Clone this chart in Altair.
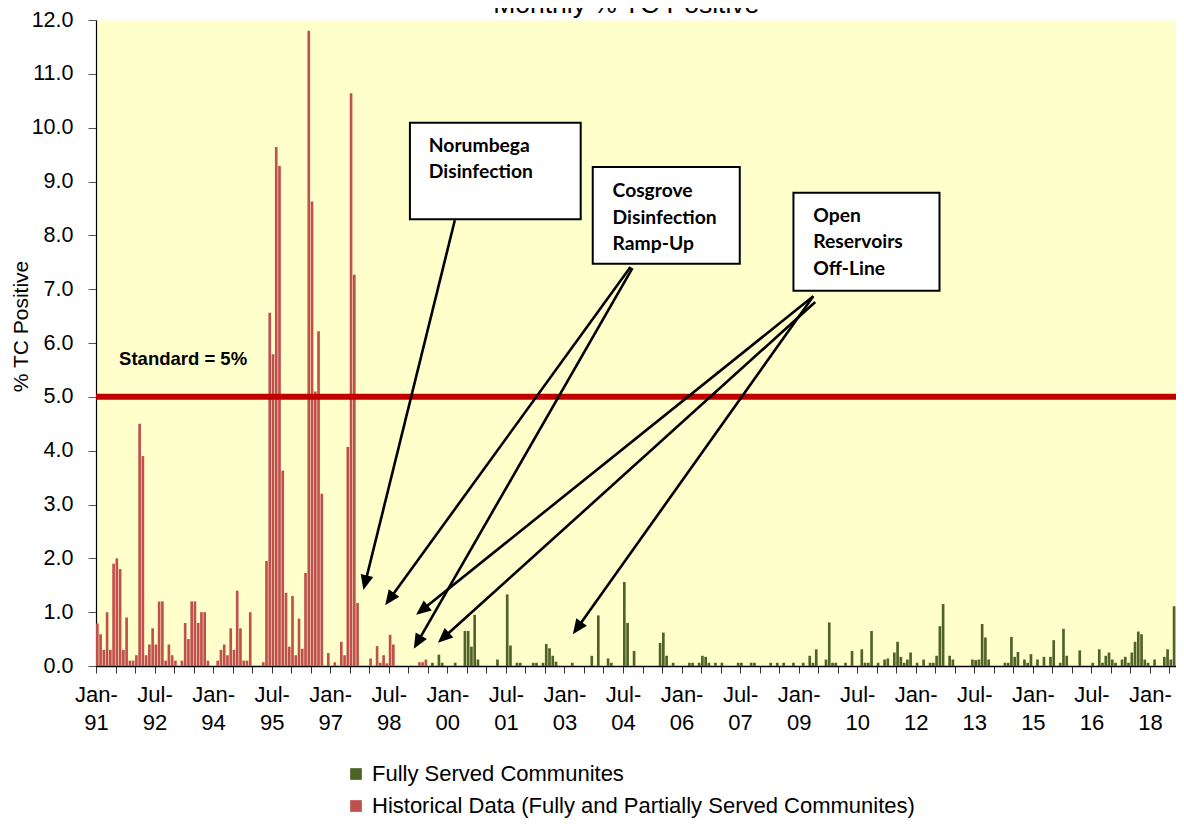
import json
import math
import altair as alt
import pandas as pd

# ---------------- data (month index 0 = Jan-1991) ----------------
SERIES = ["Fully Served Communites",
          "Historical Data (Fully and Partially Served Communites)"]
COLORS = ["#4F6228", "#C0504D"]

hist_start = 0
historical = [
    0.79, 0.59, 0.3, 1.0, 0.3, 1.9, 2.0, 1.8, 0.3, 0.9, 0.1, 0.1,        # 1991
    0.2, 4.5, 3.9, 0.2, 0.4, 0.7, 0.4, 1.2, 1.2, 0.1, 0.4, 0.2,          # 1992
    0.1, 0, 0.1, 0.8, 0.5, 1.2, 1.2, 0.8, 1.0, 1.0, 0.1, 0,              # 1993
    0, 0.1, 0.3, 0.4, 0.2, 0.7, 0.3, 1.4, 0.7, 0.1, 0.1, 1.0,            # 1994
    0, 0, 0, 0.07, 1.95, 6.56, 5.79, 9.64, 9.29, 3.63, 1.36, 0.36,       # 1995
    1.3, 0.2, 0.88, 0.32, 1.73, 11.8, 8.63, 5.1, 6.22, 3.2, 0, 0.24,     # 1996
    0, 0.07, 0, 0.45, 0.2, 4.07, 10.64, 7.27, 1.17, 0, 0, 0,             # 1997
    0.14, 0, 0.37, 0.06, 0.2, 0.05, 0.58, 0.4, 0, 0, 0, 0,               # 1998
    0, 0, 0, 0.07, 0.07, 0.12,                                           # 1999
]

fully_start = 96
fully_served = [
    0, 0, 0, 0, 0, 0, 0, 0.06, 0, 0.21, 0.06, 0,                         # 1999
    0, 0, 0.06, 0, 0, 0.65, 0.65, 0.36, 0.95, 0.12, 0, 0,                # 2000
    0, 0, 0, 0.12, 0, 0, 1.33, 0.38, 0, 0.06, 0.06, 0,                   # 2001
    0, 0, 0.06, 0.06, 0, 0.06, 0.41, 0.33, 0.19, 0.08, 0, 0,             # 2002
    0, 0, 0.06, 0, 0, 0, 0, 0, 0.19, 0, 0.94, 0,                         # 2003
    0, 0.14, 0.06, 0, 0, 0, 1.56, 0.8, 0, 0.28, 0, 0,                    # 2004
    0, 0, 0, 0, 0, 0.43, 0.62, 0.19, 0, 0.06, 0, 0,                      # 2005
    0, 0, 0.06, 0.06, 0, 0.06, 0.19, 0.17, 0.06, 0, 0.06, 0,             # 2006
    0.06, 0, 0, 0, 0, 0.06, 0.06, 0, 0, 0.06, 0.06, 0,                   # 2007
    0, 0, 0, 0.06, 0, 0.06, 0, 0.06, 0, 0, 0.06, 0,                      # 2008
    0, 0.06, 0, 0.19, 0.06, 0.31, 0, 0, 0.12, 0.81, 0.06, 0.06,          # 2009
    0, 0, 0.06, 0, 0.28, 0, 0, 0.31, 0.06, 0.06, 0.65, 0,                # 2010
    0.06, 0, 0.12, 0.14, 0, 0.25, 0.45, 0.17, 0.06, 0.12, 0.25, 0,       # 2011
    0.06, 0, 0.12, 0, 0.06, 0.06, 0.19, 0.74, 1.15, 0, 0.19, 0.12,       # 2012
    0, 0, 0, 0, 0, 0.12, 0.11, 0.12, 0.78, 0.53, 0.12, 0,                # 2013
    0, 0, 0, 0.06, 0.06, 0.54, 0.17, 0.26, 0, 0.12, 0.06, 0.22,          # 2014
    0, 0.12, 0, 0.17, 0, 0.17, 0.48, 0, 0.06, 0.69, 0.19, 0,             # 2015
    0, 0, 0.29, 0, 0, 0, 0.06, 0, 0.31, 0.06, 0.19, 0.25,                # 2016
    0.12, 0.06, 0, 0.12, 0.17, 0.06, 0.25, 0.45, 0.64, 0.59, 0.12, 0.06, # 2017
    0, 0.12, 0, 0, 0.17, 0.31, 0.12, 1.11,                               # 2018
]

N_MONTHS = 332
tick_top = ["Jan-", "Jul-"] * 9 + ["Jan-"]
tick_bottom = ["91", "92", "94", "95", "97", "98", "00", "01", "03", "04",
               "06", "07", "09", "10", "12", "13", "15", "16", "18"]

chart_title = "Monthly % TC Positive"
y_title = "% TC Positive"
STANDARD = 5.0
standard_label = "Standard = 5%"

# annotation boxes: (x0, x1, y_top, y_bottom) in months / % units
boxes = [
    (96.5, 149.0, 10.09, 8.30),
    (152.7, 197.9, 9.27, 7.47),
    (214.4, 259.3, 8.79, 6.97),
]
box_texts = [
    (102.3, 9.55, ["Norumbega", "Disinfection"]),
    (158.8, 8.71, ["Cosgrove", "Disinfection", "Ramp-Up"]),
    (220.5, 8.25, ["Open", "Reservoirs", "Off-Line"]),
]
# arrows: start (month, %) -> tip (month, %)
arrows = [
    (110.3, 8.28, 82.2, 1.41),
    (164.3, 7.41, 88.9, 1.13),
    (164.9, 7.39, 97.7, 0.32),
    (220.5, 6.87, 98.4, 0.95),
    (221.1, 6.76, 105.1, 0.43),
    (220.5, 6.87, 146.6, 0.59),
]

# ---------------- layout ----------------
W, H = 1080, 646
PPM = W / N_MONTHS   # px per month
PPU = H / 12.0       # px per % unit
FONT = "Liberation Sans"

rows = []
for i, v in enumerate(historical):
    rows.append({"m": hist_start + i, "m2": hist_start + i + 0.82, "v": v, "s": SERIES[1]})
for i, v in enumerate(fully_served):
    rows.append({"m": fully_start + i, "m2": fully_start + i + 0.82, "v": v, "s": SERIES[0]})
df = pd.DataFrame(rows)
df = df[df["v"] > 0]

xscale = alt.Scale(domain=[0, N_MONTHS], nice=False, zero=False)
yscale = alt.Scale(domain=[0, 12], nice=False)

label_expr = ("datum.value % 18 == 0 ? [" + json.dumps(tick_top) + "[datum.value/18], "
              + json.dumps(tick_bottom) + "[datum.value/18]] : ''")

xaxis = alt.Axis(values=list(range(0, N_MONTHS + 1, 6)), labelExpr=label_expr,
                 labelFont=FONT, labelFontSize=22, labelColor="black",
                 labelBaseline="top", labelLineHeight=28, labelPadding=11,
                 labelAlign="center", labelOverlap=False, labelFlush=False,
                 tickSize=7, tickColor="#333333", domainColor="black",
                 domainWidth=1.5, grid=False, title=None)
yaxis = alt.Axis(values=list(range(0, 13)), format=".1f",
                 labelFont=FONT, labelFontSize=21.5, labelColor="black",
                 labelPadding=15, tickSize=8, tickColor="#555555",
                 domainColor="black", domainWidth=1.2, grid=False,
                 title=y_title, titleFont=FONT, titleFontSize=21,
                 titleFontWeight="normal", titleColor="black",
                 titleAngle=270, titleX=-69, titleY=306,
                 titleBaseline="alphabetic", titleAlign="center")


def X(field):
    return alt.X(field, scale=xscale, axis=xaxis)


def Y(field):
    return alt.Y(field, scale=yscale, axis=yaxis)


bars = alt.Chart(df).mark_bar(opacity=1).encode(
    x=X("m:Q"),
    x2="m2:Q",
    y=Y("v:Q"),
    y2=alt.datum(0),
    color=alt.Color("s:N", scale=alt.Scale(domain=SERIES, range=COLORS),
                    legend=alt.Legend(orient="none", legendX=249, legendY=743,
                                      direction="vertical", title=None,
                                      symbolType="square", symbolSize=137,
                                      symbolStrokeWidth=0, labelFont=FONT,
                                      labelFontSize=22, labelColor="black",
                                      labelLimit=1000, labelOffset=5,
                                      rowPadding=10, padding=0)),
)

std_df = pd.DataFrame({"v": [STANDARD]})
std_rule = alt.Chart(std_df).mark_rule(color="#C00000", strokeWidth=6).encode(
    y=Y("v:Q"))

std_text = alt.Chart(pd.DataFrame({"m": [7.1], "v": [5.59], "t": [standard_label]})).mark_text(
    align="left", baseline="alphabetic", font=FONT, fontWeight="bold",
    fontSize=18.5, color="black").encode(
    x=X("m:Q"), y=Y("v:Q"), text="t:N")

title_text = alt.Chart(pd.DataFrame({"m": [163.0], "v": [12.13], "t": [chart_title]})).mark_text(
    align="center", baseline="alphabetic", font=FONT, fontSize=26.5,
    color="black").encode(x=X("m:Q"), y=Y("v:Q"), text="t:N")

# arrows
head_len_units = 2.2
head_size = 185
s = math.sqrt(head_size) / 2
head_len_px = head_len_units * s
arr_rows = []
for (x1, y1, x2, y2) in arrows:
    dxp = (x2 - x1) * PPM
    dyp = -(y2 - y1) * PPU
    L = math.hypot(dxp, dyp)
    ang = math.degrees(math.atan2(dxp, -dyp)) % 360
    f = (L - head_len_px * 0.7) / L
    arr_rows.append({"x1": x1, "y1": y1, "x2": x2, "y2": y2,
                     "xe": x1 + (x2 - x1) * f, "ye": y1 + (y2 - y1) * f,
                     "ang": ang})
arr_df = pd.DataFrame(arr_rows)

arrow_lines = alt.Chart(arr_df).mark_rule(color="black", strokeWidth=2.6).encode(
    x=X("x1:Q"), y=Y("y1:Q"), x2="xe:Q", y2="ye:Q")

arrow_heads = alt.Chart(arr_df).mark_point(
    shape="M0,0L-0.95,2.2L0.95,2.2Z", filled=True, size=head_size,
    color="black", opacity=1, strokeWidth=0).encode(
    x=X("x2:Q"), y=Y("y2:Q"),
    angle=alt.Angle("ang:Q", scale=None))

box_df = pd.DataFrame([{"x0": b[0], "x1": b[1], "yt": b[2], "yb": b[3]} for b in boxes])
box_marks = alt.Chart(box_df).mark_rect(fill="white", stroke="black", strokeWidth=2).encode(
    x=X("x0:Q"), x2="x1:Q", y=Y("yt:Q"), y2="yb:Q")

text_layers = []
for (tx, ty, lines) in box_texts:
    text_layers.append(
        alt.Chart(pd.DataFrame({"m": [tx], "v": [ty]})).mark_text(
            align="left", baseline="alphabetic", font="Lato", fontWeight="bold",
            fontSize=19.3, lineHeight=26.5, color="black").encode(
            x=X("m:Q"), y=Y("v:Q"), text=alt.value(lines)))

chart = alt.layer(bars, std_rule, std_text, arrow_lines, arrow_heads, box_marks,
                  *text_layers, title_text).properties(
    width=W, height=H,
    padding={"left": 88, "top": 12, "right": 0, "bottom": 152},
    autosize=alt.AutoSizeParams(type="none"),
).configure(background="white").configure_view(fill="#FFFFCC", stroke="transparent")

chart.save("out.html", embed_options={"renderer": "svg", "actions": False})
